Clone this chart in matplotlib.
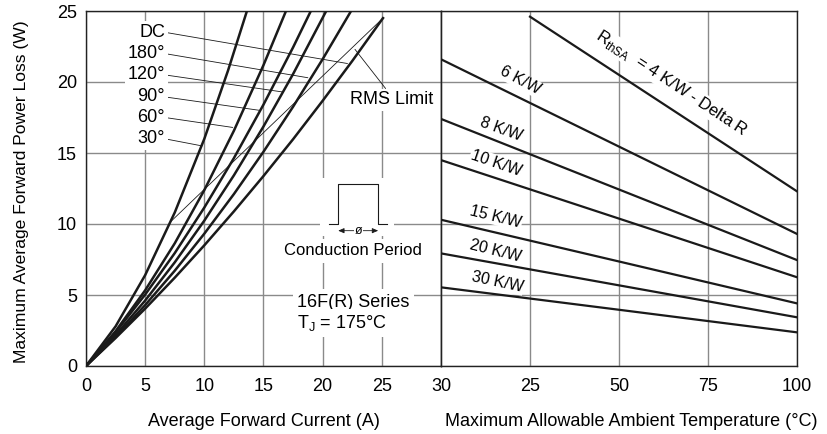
import matplotlib
matplotlib.use('Agg')
import matplotlib.pyplot as plt
from matplotlib.patches import Rectangle

plt.rcParams['font.family'] = ['Liberation Sans', 'DejaVu Sans']
plt.rcParams['mathtext.fontset'] = 'custom'
plt.rcParams['mathtext.rm'] = 'Liberation Sans'

# ---- left panel: power loss vs average forward current ----
angle_names = ['DC', '180°', '120°', '90°', '60°', '30°']
cur_dc = [0, 2.5, 5, 7.5, 10, 12.5, 15, 17.5, 20, 22.5, 25.1]
loss_dc = [0, 1.97, 4.04, 6.22, 8.50, 10.89, 13.38, 15.97, 18.68, 21.48, 24.5]
cur_180 = [0, 2.5, 5, 7.5, 10, 12.5, 15, 17.5, 20, 22.4]
loss_180 = [0, 2.05, 4.29, 6.71, 9.32, 12.11, 15.09, 18.26, 21.61, 25.0]
cur_120 = [0, 2.5, 5, 7.5, 10, 12.5, 15, 17.5, 20.3]
loss_120 = [0, 2.18, 4.61, 7.30, 10.24, 13.43, 16.87, 20.56, 25.0]
cur_90 = [0, 2.5, 5, 7.5, 10, 12.5, 15, 17.5, 19.0]
loss_90 = [0, 2.37, 5.03, 7.95, 11.16, 14.64, 18.41, 22.44, 25.0]
cur_60 = [0, 2.5, 5, 7.5, 10, 12.5, 15, 16.9]
loss_60 = [0, 2.45, 5.33, 8.64, 12.39, 16.57, 21.19, 25.0]
cur_30 = [0, 2.5, 5, 7.5, 10, 12, 13.6]
loss_30 = [0, 2.79, 6.4, 10.81, 16.0, 20.8, 25.0]

# where each label's leader touches its curve
tip_cur = [22.1, 18.75, 16.6, 14.7, 12.4, 9.8]
tip_loss = [21.3, 20.3, 19.3, 18.0, 16.8, 15.5]
label_loss = [23.5, 22.0, 20.5, 18.95, 17.5, 16.0]

rms_cur = [7.2, 25.1]
rms_loss = [10.2, 24.5]

# ---- right panel: power loss vs ambient temperature ----
rth_names = ['4 K/W', '6 K/W', '8 K/W', '10 K/W', '15 K/W', '20 K/W', '30 K/W']
temp_4 = [25, 50, 100]
pd_4 = [24.6, 20.5, 12.3]
temp = [0, 50, 100]
pd_6 = [21.6, 15.45, 9.3]
pd_8 = [17.4, 12.43, 7.46]
pd_10 = [14.5, 10.38, 6.25]
pd_15 = [10.3, 7.36, 4.41]
pd_20 = [7.93, 5.68, 3.43]
pd_30 = [5.54, 3.96, 2.37]

fig = plt.figure(figsize=(8.28, 4.34), dpi=100)
ax1 = fig.add_axes([86/828, 1-366/434, 355/828, 355/434])
ax2 = fig.add_axes([441/828, 1-366/434, 356/828, 355/434])

gridc = '#8a8a8a'
fs = 13

for ax in (ax1, ax2):
    ax.set_ylim(0, 25)
    ax.set_yticks([0, 5, 10, 15, 20, 25])
    ax.grid(True, color=gridc, lw=1.0)
    ax.set_axisbelow(True)
    ax.tick_params(length=0, labelsize=fs)
    ax.tick_params(axis='x', pad=8.5)
    ax.tick_params(axis='y', pad=6.5)
    for s in ax.spines.values():
        s.set_color('#222222')
        s.set_linewidth(1.0)

ax1.set_xlim(0, 30)
ax1.set_xticks([0, 5, 10, 15, 20, 25, 30])
ax1.set_ylabel('Maximum Average Forward Power Loss (W)', fontsize=12.6)
ax1.yaxis.set_label_coords(-0.16, 0.49)
ax1.set_xlabel('Average Forward Current (A)', fontsize=fs, labelpad=13)

ax2.set_xlim(0, 100)
ax2.set_xticks([0, 25, 50, 75, 100])
ax2.set_xticklabels(['', '25', '50', '75', '100'])
ax2.set_yticklabels([])
ax2.set_xlabel('Maximum Allowable Ambient Temperature (°C)', fontsize=fs, labelpad=13)
ax2.xaxis.label.set_x(0.534)

# curves
curves = [(cur_dc, loss_dc), (cur_180, loss_180), (cur_120, loss_120),
          (cur_90, loss_90), (cur_60, loss_60), (cur_30, loss_30)]
for c, p in curves:
    ax1.plot(c, p, color='#1a1a1a', lw=1.8, zorder=4)
ax1.plot(rms_cur, rms_loss, color='#1a1a1a', lw=0.6, zorder=4)

box = dict(fc='white', ec='none', pad=2.0)
for name, tc, tp, ly in zip(angle_names, tip_cur, tip_loss, label_loss):
    ax1.annotate(name, xy=(tc, tp), xytext=(6.67, ly), ha='right', va='center',
                 fontsize=fs, bbox=box, zorder=3,
                 arrowprops=dict(arrowstyle='-', lw=0.6, color='#1a1a1a',
                                 relpos=(1, 0.5), shrinkA=0, shrinkB=0))
ax1.annotate('RMS Limit', xy=(22.73, 22.3), xytext=(25.85, 18.75), ha='center',
             va='center', fontsize=fs, bbox=box, zorder=3,
             arrowprops=dict(arrowstyle='-', lw=0.6, color='#1a1a1a',
                             relpos=(0.45, 1), shrinkA=0, shrinkB=0))

# conduction period sketch
ax1.add_patch(Rectangle((19.77, 9.15), 6.25, 4.1, fc='white', ec='none', zorder=2))
ax1.plot([20.53, 21.31, 21.31, 24.69, 24.69, 25.45], [10, 10, 12.82, 12.82, 10, 10],
         color='#1a1a1a', lw=0.8, zorder=3)
ax1.annotate('', xy=(21.31, 9.53), xytext=(24.69, 9.53), zorder=3,
             arrowprops=dict(arrowstyle='<|-|>,head_length=0.35,head_width=0.15',
                             lw=0.6, color='#1a1a1a', shrinkA=0, shrinkB=0))
ax1.text(23.0, 9.53, 'ø', ha='center', va='center', fontsize=9,
         bbox=dict(fc='white', ec='none', pad=0.5), zorder=4)
ax1.text(22.56, 8.1, 'Conduction Period', ha='center', va='center', fontsize=12,
         bbox=dict(fc='white', ec='none', pad=3), zorder=3)
ax1.text(17.83, 4.5, '16F(R) Series', ha='left', va='center', fontsize=fs,
         bbox=dict(fc='white', ec='none', pad=3), zorder=3)
ax1.text(17.83, 3.03, r'T$_\mathregular{J}$ = 175°C', ha='left', va='center', fontsize=fs,
         bbox=dict(fc='white', ec='none', pad=3), zorder=3)

# right panel lines
ax2.plot(temp_4, pd_4, color='#1a1a1a', lw=1.6, zorder=4)
for p in (pd_6, pd_8, pd_10, pd_15, pd_20, pd_30):
    ax2.plot(temp, p, color='#1a1a1a', lw=1.6, zorder=4)

rbox = dict(fc='white', ec='none', pad=0.5)
ax2.text(64.8, 19.9, r'R$_\mathregular{thSA}$  = 4 K/W - Delta R', rotation=-33.5,
         rotation_mode='anchor', ha='center', va='center', fontsize=12, bbox=rbox, zorder=3)
lab_x = [22.2, 16.8, 15.4, 15.4, 15.4, 15.8]
lab_y = [20.1, 16.7, 14.3, 10.5, 8.1, 5.9]
lab_rot = [-28, -20, -19, -14, -14, -12]
for name, x, y, r in zip(rth_names[1:], lab_x, lab_y, lab_rot):
    ax2.text(x, y, name, rotation=r, rotation_mode='anchor', ha='center', va='center',
             fontsize=11.5, bbox=rbox, zorder=3)

fig.savefig('out.png', dpi=100)
